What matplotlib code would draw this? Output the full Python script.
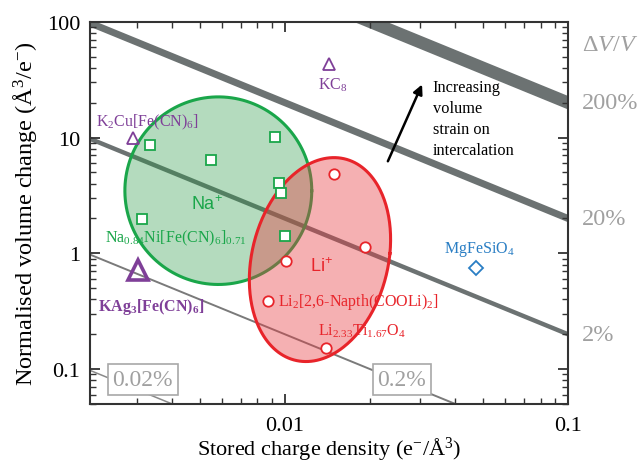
import numpy as np
import matplotlib

matplotlib.use("Agg")
import matplotlib.pyplot as plt  # noqa: E402

plt.rcParams["font.family"] = ["Liberation Serif", "DejaVu Serif"]
plt.rcParams["mathtext.fontset"] = "custom"
plt.rcParams["mathtext.rm"] = "Liberation Serif"
plt.rcParams["mathtext.it"] = "Liberation Serif:italic"
plt.rcParams["mathtext.bf"] = "Liberation Serif:bold"
plt.rcParams["mathtext.default"] = "regular"

# ---- data ----
na_x = [0.00334, 0.00548, 0.00922, 0.00952, 0.00968, 0.00313, 0.0100]
na_y = [8.65, 6.43, 10.1, 4.07, 3.34, 1.99, 1.42]

li_x = [0.0149, 0.0192, 0.0101, 0.0087, 0.01396]
li_y = [4.86, 1.14, 0.865, 0.384, 0.151]

k_x = [0.0029, 0.01429]
k_y = [9.93, 43.2]
kag_x = [0.00303]
kag_y = [0.723]

mg_x = [0.0473]
mg_y = [0.753]

# strain guide lines: dV/V fraction, line width
strains = [2.0, 0.2, 0.02, 0.002, 0.0002]
strain_widths = [9.0, 5.0, 3.2, 1.4, 1.1]
strain_colors = ["#6c7272", "#6c7272", "#6c7272", "#7a7a7a", "#8a8a8a"]
strain_labels = ["200%", "20%", "2%"]

# ellipses in log10 space: centre, two conjugate half-axes (decades)
na_ell = dict(c=(-2.235, 0.541), p=(0.330, 0.0), q=(0.0, 0.810))
li_ell = dict(c=(-1.876, -0.054), p=(0.247, 0.052), q=(0.035, 0.879))

xlim = (0.00205, 0.1)
ylim = (0.05, 100)

GREEN = "#1aa64a"
RED = "#e8242a"
PURPLE = "#7f3f98"
BLUE = "#2a7ec4"
GREY_TXT = "#a0a0a0"


def ellipse_xy(c, p, q, n=300):
    t = np.linspace(0, 2 * np.pi, n)
    lx = c[0] + p[0] * np.cos(t) + q[0] * np.sin(t)
    ly = c[1] + p[1] * np.cos(t) + q[1] * np.sin(t)
    return 10 ** lx, 10 ** ly


fig = plt.figure(figsize=(6.4, 4.64), dpi=100)
ax = fig.add_axes([0.1406, 0.1272, 0.7469, 0.8238])
ax.set_xscale("log")
ax.set_yscale("log")
ax.set_xlim(*xlim)
ax.set_ylim(*ylim)

# strain lines y = s / x
xs = np.array([xlim[0] * 0.8, xlim[1] * 1.2])
for s, lw, col in zip(strains, strain_widths, strain_colors):
    ax.plot(xs, s / xs, color=col, lw=lw, solid_capstyle="butt", zorder=1)

# ellipses
ex, ey = ellipse_xy(**na_ell)
ax.fill(ex, ey, facecolor="#289a45", alpha=0.35, edgecolor="none", zorder=2)
ax.plot(ex, ey, color=GREEN, lw=2.2, zorder=2)
ex, ey = ellipse_xy(**li_ell)
ax.fill(ex, ey, facecolor="#e83a40", alpha=0.4, edgecolor="none", zorder=3)
ax.plot(ex, ey, color=RED, lw=2.2, zorder=3)

# points
ax.plot(na_x, na_y, "s", ms=7, mfc="white", mec=GREEN, mew=1.3, zorder=5)
ax.plot(li_x, li_y, "o", ms=7.5, mfc="white", mec=RED, mew=1.3, zorder=5)
ax.plot(k_x, k_y, "^", ms=9, mfc="none", mec=PURPLE, mew=1.3, zorder=5)
ax.plot(kag_x, kag_y, "^", ms=14, mfc="none", mec=PURPLE, mew=2.6, zorder=5)
ax.plot(mg_x, mg_y, "D", ms=7, mfc="white", mec=BLUE, mew=1.3, zorder=5)

# labels
lab = dict(fontsize=11.5, va="center", zorder=6)
ax.text(0.00215, 13.9, r"K$_2$Cu[Fe(CN)$_6$]", color=PURPLE, **lab)
ax.text(0.0148, 29.0, r"KC$_8$", color=PURPLE, ha="center", **lab)
ax.text(0.00231, 1.36, r"Na$_{0.84}$Ni[Fe(CN)$_6$]$_{0.71}$", color=GREEN, **lab)
ax.text(0.00218, 0.354, r"KAg$_3$[Fe(CN)$_6$]", color=PURPLE,
        fontweight="bold", **lab)
ax.text(0.00945, 0.384, r"Li$_2$[2,6-Napth(COOLi)$_2$]", color=RED, **lab)
ax.text(0.0131, 0.215, r"Li$_{2.33}$Ti$_{1.67}$O$_4$", color=RED, **lab)
ax.text(0.0365, 1.10, r"MgFeSiO$_4$", color=BLUE, **lab)
ax.text(0.0053, 2.68, r"Na$^{+}$", color=GREEN, fontsize=13, ha="center",
        va="center", family=["Liberation Sans", "DejaVu Sans"], zorder=6)
ax.text(0.0135, 0.783, r"Li$^{+}$", color=RED, fontsize=13, ha="center",
        va="center", family=["Liberation Sans", "DejaVu Sans"], zorder=6)

# arrow and note
ax.annotate("", xy=(0.0308, 30.2), xytext=(0.0229, 5.93),
            arrowprops=dict(arrowstyle="-|>", color="black", lw=1.8,
                            mutation_scale=14), zorder=6)
ax.text(0.0333, 32.0, "Increasing\nvolume\nstrain on\nintercalation",
        fontsize=11.8, va="top", ha="left", linespacing=1.42, zorder=6)

# boxed strain labels
box = dict(boxstyle="square,pad=0.2", fc="white", ec="#a8a8a8", lw=1.2)
ax.text(0.00315, 0.0815, "0.02%", fontsize=17, color=GREY_TXT, ha="center",
        va="center", bbox=box, zorder=7)
ax.text(0.0259, 0.0815, "0.2%", fontsize=17, color=GREY_TXT, ha="center",
        va="center", bbox=box, zorder=7)

# right-side strain labels
trans = ax.get_yaxis_transform()
for s, txt in zip(strains[:3], strain_labels):
    ax.text(1.03, s / xlim[1], txt, transform=trans, fontsize=17.5,
            color=GREY_TXT, va="center", ha="left", clip_on=False)
ax.text(1.03, 64.0, r"$\Delta\mathit{V/V}$", transform=trans, fontsize=17.5,
        color=GREY_TXT, va="center", ha="left", clip_on=False)

# axes styling
ax.set_xticks([0.01, 0.1])
ax.set_xticklabels(["0.01", "0.1"])
ax.set_yticks([0.1, 1, 10, 100])
ax.set_yticklabels(["0.1", "1", "10", "100"])
ax.tick_params(which="both", direction="in", top=True, right=True,
               labelsize=16, color="#333333")
ax.tick_params(which="major", length=7, width=1.3)
ax.tick_params(which="minor", length=4, width=1.0)
ax.tick_params(axis="x", which="major", pad=9)
ax.tick_params(axis="y", which="major", pad=7)
for sp in ax.spines.values():
    sp.set_linewidth(1.5)
    sp.set_color("#333333")

ax.set_xlabel(r"Stored charge density (e$^{-}$/Å$^{3}$)", fontsize=16)
ax.xaxis.set_label_coords(0.5, -0.078)
ax.set_ylabel(r"Normalised volume change (Å$^{3}$/e$^{-}$)", fontsize=17.5,
              labelpad=6)

fig.savefig("out.png", dpi=100, facecolor="white")
